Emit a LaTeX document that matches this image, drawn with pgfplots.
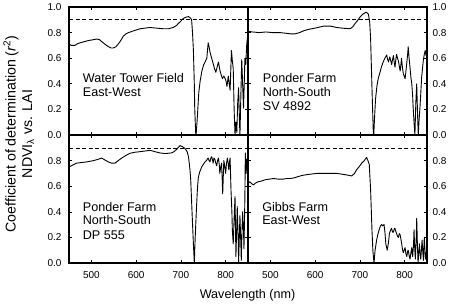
\documentclass[border=0pt]{standalone}
\usepackage{fontspec}
\setmainfont{Liberation Sans}
\usepackage{pgfplots}
\pgfplotsset{compat=1.18}
\tikzset{
  curve/.style={black, line width=0.9pt, line join=round},
  ref/.style={black, line width=0.6pt, dash pattern=on 4pt off 2.5pt},
  lab/.style={anchor=base west, inner sep=0pt, font=\fontsize{12.6}{14}\selectfont},
}
\pgfplotsset{
  panel/.style={
    scale only axis, width=179pt, height=128pt,
    anchor=south west,
    xmin=450, xmax=850, ymin=0, ymax=1,
    xtick={500,600,700,800},
    ytick={0,0.2,0.4,0.6,0.8,1.0},
    xtick pos=both, ytick pos=both,
    tick align=inside, major tick length=3pt,
    tick style={black, line width=0.6pt},
    axis line style={line width=1.1pt},
    /pgf/number format/assume math mode=true,
    tick label style={font=\fontsize{10}{12}\selectfont},
    yticklabel style={/pgf/number format/.cd, fixed, fixed zerofill, precision=1, /tikz/.cd},
    xticklabel style={/pgf/number format/.cd, fixed, precision=0, /tikz/.cd, yshift=-4.5pt},
    clip=true,
  },
}
\begin{document}
\begin{tikzpicture}
\useasboundingbox (0,0) rectangle (450pt,306pt);

% top-left
\begin{axis}[panel, at={(69pt,171pt)}, xticklabels={}, yticklabel pos=left,
  yticklabel style={xshift=-4pt}]
\addplot[ref] coordinates {(450,0.9) (850,0.9)};
\addplot[curve] coordinates {
(450,0.71) (455,0.70) (463,0.70) (470,0.715) (480,0.725) (490,0.735) (497,0.74) (505,0.745)
(512,0.75) (518,0.745) (523,0.73) (530,0.71) (538,0.69) (544,0.68) (549,0.68) (555,0.69)
(560,0.71) (566,0.74) (571,0.77) (577,0.79) (583,0.80) (595,0.815) (609,0.83) (620,0.835)
(631,0.84) (645,0.835) (661,0.83) (672,0.83) (683,0.84) (690,0.855) (694,0.87) (700,0.89)
(705,0.91) (711,0.92) (717,0.925) (721,0.915) (724,0.90) (726,0.80) (728,0.66) (730,0.40)
(731,0.20) (733,0.02) (734,0.0) (737,0.15) (740,0.33) (743,0.42) (747,0.50) (751,0.55)
(754,0.57) (758,0.60) (761,0.72) (763,0.69) (765,0.65) (768,0.61) (772,0.56) (775,0.52)
(778,0.49) (781,0.53) (784,0.57) (787,0.51) (790,0.47) (793,0.44) (796,0.46) (799,0.44)
(801,0.42) (803,0.38) (806,0.46) (808,0.40) (810,0.35) (813,0.66) (815,0.58) (817,0.52)
(819,0.20) (821,0.0) (823,0.10) (825,0.02) (827,0.25) (829,0.37) (831,0.10) (832,0.0)
(834,0.30) (836,0.59) (838,0.40) (840,0.21) (842,0.45) (843,0.60) (845,0.55) (847,0.70)
(849,0.77) (850,0.75)};
\node[lab] at (axis cs:480.6,0.409) {Water Tower Field};
\node[lab] at (axis cs:480.6,0.299) {East-West};
\end{axis}

% top-right
\begin{axis}[panel, at={(248pt,171pt)}, xticklabels={}, yticklabel pos=right,
  yticklabel style={xshift=2pt}]
\addplot[ref] coordinates {(450,0.9) (850,0.9)};
\addplot[curve] coordinates {
(450,0.81) (460,0.805) (475,0.80) (490,0.805) (505,0.80) (521,0.80) (535,0.795) (545,0.79)
(555,0.79) (565,0.80) (575,0.815) (585,0.825) (600,0.835) (618,0.85) (635,0.85) (648,0.84)
(660,0.835) (678,0.83) (684,0.845) (689,0.87) (695,0.895) (700,0.92) (707,0.945) (714,0.96)
(719,0.945) (722,0.88) (724,0.75) (726,0.50) (728,0.25) (730,0.02) (731,0.0) (733,0.15)
(735,0.28) (738,0.38) (741,0.44) (745,0.49) (748,0.53) (752,0.57) (756,0.60) (760,0.625)
(762,0.59) (764,0.57) (766,0.60) (767,0.61) (769,0.58) (771,0.55) (773,0.59) (775,0.62)
(777,0.56) (778.5,0.53) (780,0.58) (782,0.63) (784,0.60) (786,0.58) (788,0.54) (790,0.50)
(792,0.56) (793,0.60) (795,0.53) (797,0.48) (799,0.46) (801,0.44) (803,0.50) (805,0.57)
(807,0.64) (808,0.69) (810,0.60) (812,0.53) (814,0.45) (816,0.40) (818,0.30) (819,0.22)
(821,0.10) (823,0.0) (825,0.25) (827,0.40) (829,0.15) (830.5,0.0) (832,0.10) (834,0.2)
(836,0.32) (838,0.45) (840,0.52) (842,0.59) (844,0.63) (846,0.66) (848,0.62) (850,0.68)};
\node[lab] at (axis cs:482.8,0.409) {Ponder Farm};
\node[lab] at (axis cs:482.8,0.299) {North-South};
\node[lab] at (axis cs:482.8,0.190) {SV 4892};
\end{axis}

% bottom-left
\begin{axis}[panel, at={(69pt,43pt)}, ytick={0,0.2,0.4,0.6,0.8}, yticklabel pos=left,
  yticklabel style={xshift=-4pt}]
\addplot[ref] coordinates {(450,0.9) (850,0.9)};
\addplot[curve] coordinates {
(450,0.75) (458,0.765) (467,0.78) (478,0.785) (490,0.79) (505,0.80) (515,0.81) (523,0.82)
(530,0.805) (538,0.79) (545,0.78) (553,0.78) (560,0.80) (568,0.82) (577,0.84) (586,0.857)
(597,0.865) (609,0.87) (620,0.875) (631,0.88) (642,0.87) (653,0.86) (665,0.855) (679,0.86)
(685,0.87) (691,0.89) (698,0.917) (703,0.91) (709,0.895) (714,0.87) (717,0.83) (720,0.74)
(722,0.65) (724,0.48) (726,0.31) (728,0.15) (730,0.0) (732,0.20) (735,0.44) (737,0.58)
(739,0.67) (742,0.71) (746.5,0.75) (750,0.77) (754,0.79) (757,0.80) (761,0.82) (763,0.80)
(765,0.79) (767,0.82) (769,0.83) (771,0.80) (772,0.78) (774,0.82) (776,0.81) (778,0.78)
(780,0.76) (782,0.80) (784,0.82) (786,0.76) (787,0.70) (789,0.75) (791,0.78) (793.5,0.54)
(795,0.70) (796,0.80) (798,0.76) (800,0.70) (802,0.78) (804,0.82) (806,0.77) (807,0.73)
(809,0.80) (810,0.82) (812,0.57) (814,0.40) (815,0.26) (817,0.15) (819,0.35) (821,0.52)
(823,0.05) (825,0.30) (826,0.44) (828,0.20) (829,0.0) (831,0.25) (832,0.37) (834,0.15)
(835,0.02) (837,0.30) (838,0.40) (840,0.25) (841,0.11) (843,0.50) (844,0.86) (846,0.70)
(847,0.81) (849,0.75) (850,0.70)};
\node[lab] at (axis cs:480.6,0.406) {Ponder Farm};
\node[lab] at (axis cs:480.6,0.297) {North-South};
\node[lab] at (axis cs:480.6,0.186) {DP 555};
\end{axis}

% bottom-right
\begin{axis}[panel, at={(248pt,43pt)}, ytick={0,0.2,0.4,0.6,0.8}, yticklabel pos=right,
  yticklabel style={xshift=2pt}]
\addplot[ref] coordinates {(450,0.9) (850,0.9)};
\addplot[curve] coordinates {
(450,0.62) (454,0.635) (458,0.62) (462,0.61) (467,0.625) (473,0.635) (480,0.64) (488,0.65)
(497,0.655) (506.5,0.66) (518,0.655) (529,0.655) (536,0.66) (544,0.66) (553,0.665) (562,0.675)
(572,0.685) (581,0.69) (592,0.695) (603.5,0.70) (615,0.70) (626,0.70) (637,0.70) (648,0.70)
(658,0.695) (667,0.69) (675,0.685) (682,0.68) (688,0.70) (693,0.73) (699,0.755) (704,0.78)
(710,0.80) (715,0.825) (718,0.80) (721,0.77) (724,0.57) (727,0.26) (729,0.10) (731.5,0.0)
(734,0.10) (737.5,0.18) (740,0.22) (743,0.26) (746,0.29) (748.5,0.30) (751,0.29) (754,0.30)
(756,0.24) (758,0.15) (761,0.10) (764,0.16) (766,0.23) (769,0.26) (771,0.27) (773,0.24)
(775,0.24) (777,0.27) (778.5,0.27) (780,0.25) (782,0.23) (784,0.21) (786,0.20) (788,0.23)
(790,0.22) (792,0.18) (793.5,0.15) (795,0.11) (797,0.08) (799,0.10) (801,0.12) (803,0.07)
(805,0.05) (806.5,0.09) (808,0.10) (810,0.06) (812,0.03) (814,0.08) (816,0.12) (817,0.07)
(818,0.05) (820,0.15) (821,0.26) (822.5,0.12) (824,0.03) (826,0.20) (827,0.35) (828.5,0.15)
(830,0.0) (831.5,0.07) (833,0.15) (834.5,0.08) (836,0.03) (837.5,0.10) (839,0.18) (840.5,0.09)
(842,0.02) (843,0.12) (844,0.20) (845.5,0.10) (846.5,0.03) (848,0.08) (850,0.05)};
\node[lab] at (axis cs:481.6,0.406) {Gibbs Farm};
\node[lab] at (axis cs:481.6,0.297) {East-West};
\end{axis}

\node[rotate=90, anchor=base, inner sep=0pt, font=\fontsize{14.2}{16}\selectfont] at (15.5pt,172pt)
  {Coefficient of determination (\textit{r}\textsuperscript{2})};
\node[rotate=90, anchor=base, inner sep=0pt, font=\fontsize{14.2}{16}\selectfont] at (32pt,172pt)
  {NDVI\textsubscript{λ} vs. LAI};
\node[anchor=base, inner sep=0pt, font=\fontsize{12.6}{14}\selectfont] at (247.5pt,8pt)
  {Wavelength (nm)};
\end{tikzpicture}
\end{document}
